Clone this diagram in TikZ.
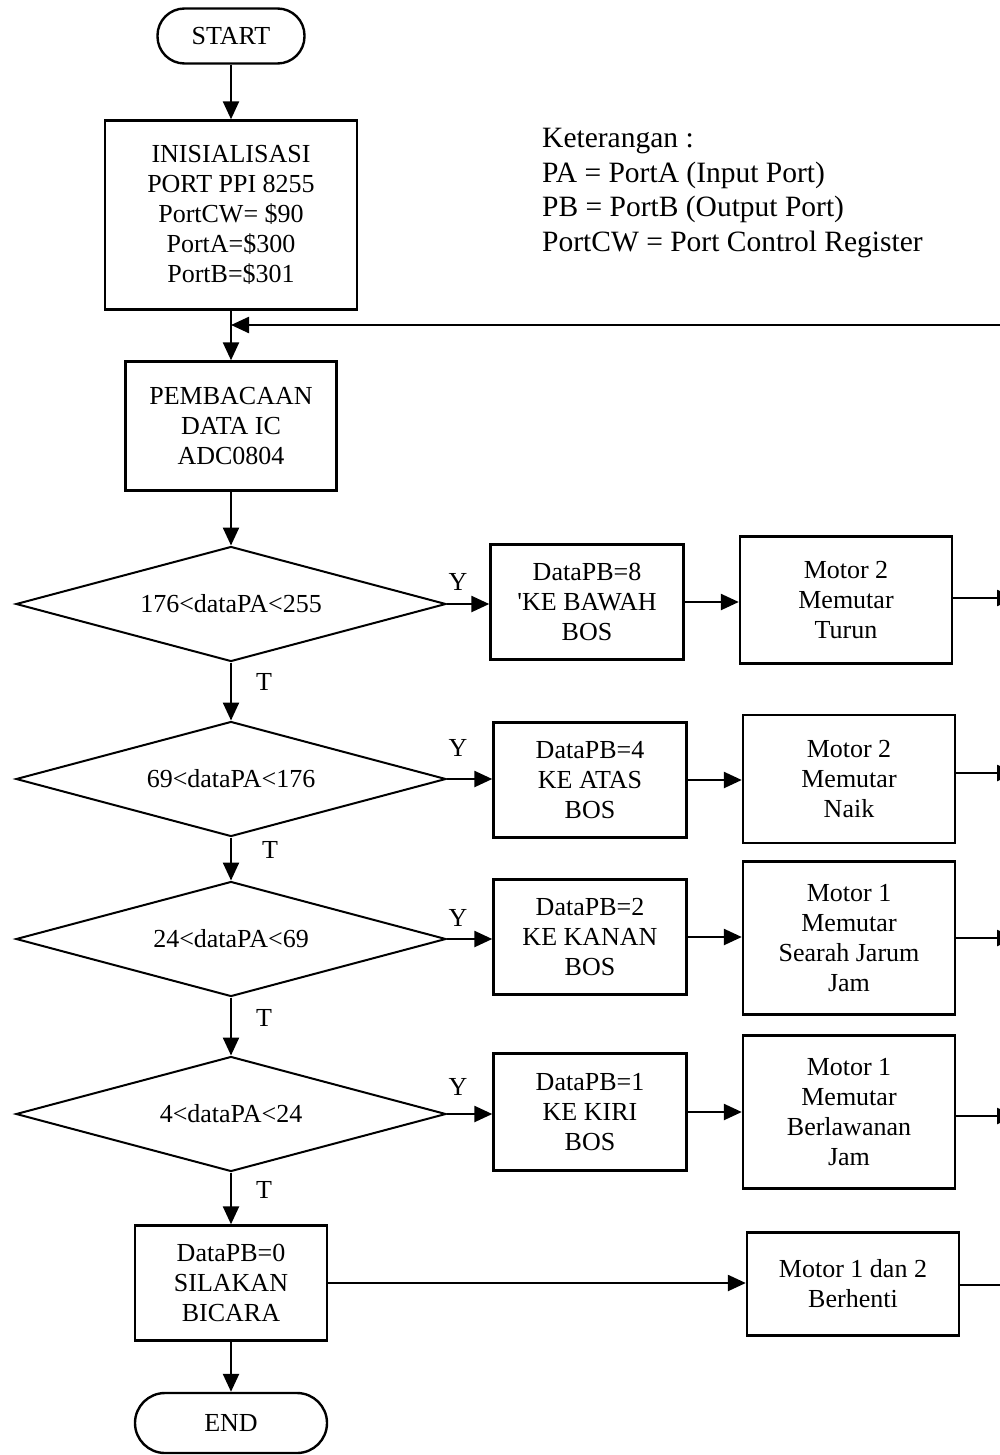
\documentclass[tikz,border=0pt]{standalone}
\usepackage{fontspec}
\setmainfont{Liberation Serif}[Ligatures=TeXOff]
\usepackage{tikz}
\usetikzlibrary{shapes.geometric,arrows.meta}

\begin{document}
\begin{tikzpicture}[x=1pt, y=-1pt, line width=2.4pt,
    font=\fontsize{26}{30}\selectfont,
    every node/.style={inner sep=0pt},
    box/.style={draw, rectangle, align=center},
    databox/.style={box, minimum width=193pt, minimum height=115pt},
    motorbox/.style={box, minimum width=212pt},
    terminal/.style={draw, rectangle, rounded corners=27pt, minimum width=147pt, minimum height=55pt},
    decision/.style={draw, diamond, aspect=3.7, minimum width=430pt, minimum height=115pt, line width=2pt},
    flow/.style={-{Triangle[length=18pt,width=16pt]}},
    lbl/.style={font=\fontsize{26}{30}\selectfont}]
    \useasboundingbox (0,0) rectangle (999,1455);

    % main column
    \node[terminal] (start) at (231,36) {START};
    \node[box, minimum width=252pt, minimum height=189pt] (init) at (231,215)
      {INISIALISASI\\PORT PPI 8255\\PortCW= \$90\\PortA=\$300\\PortB=\$301};
    \node[box, minimum width=211pt, minimum height=129pt] (baca) at (231,426)
      {PEMBACAAN\\DATA IC\\ADC0804};

    % keterangan
    \node[anchor=north west, align=left, font=\fontsize{29.5}{34.5}\selectfont] (ket) at (541,127)
      {Keterangan :\\PA = PortA (Input Port)\\PB = PortB (Output Port)\\PortCW = Port Control Register};

    % decisions
    \node[decision] (d1) at (231,604) {176<dataPA<255};
    \node[decision] (d2) at (231,779) {69<dataPA<176};
    \node[decision] (d3) at (231,939) {24<dataPA<69};
    \node[decision] (d4) at (231,1114) {4<dataPA<24};

    % data PB
    \node[databox] (pb8) at (587,602) {DataPB=8\\'KE BAWAH\\BOS};
    \node[databox] (pb4) at (590,780) {DataPB=4\\KE ATAS\\BOS};
    \node[databox] (pb2) at (590,937) {DataPB=2\\KE KANAN\\BOS};
    \node[databox, minimum height=117pt] (pb1) at (590,1112) {DataPB=1\\KE KIRI\\BOS};
    \node[databox, minimum width=192pt] (pb0) at (231,1283) {DataPB=0\\SILAKAN\\BICARA};
    \node[terminal, minimum width=192pt, minimum height=60pt, rounded corners=30pt] (end) at (231,1423) {END};

    % motors
    \node[motorbox, minimum height=127pt] (m1) at (846,600) {Motor 2\\Memutar\\Turun};
    \node[motorbox, minimum height=128pt] (m2) at (849,779) {Motor 2\\Memutar\\Naik};
    \node[motorbox, minimum height=153pt] (m3) at (849,938) {Motor 1\\Memutar\\Searah Jarum\\Jam};
    \node[motorbox, minimum height=153pt] (m4) at (849,1112) {Motor 1\\Memutar\\Berlawanan\\Jam};
    \node[motorbox, minimum height=103pt] (m5) at (853,1284) {Motor 1 dan 2\\Berhenti};

    % Y / T labels
    \node[lbl] (y1) at (458,582) {Y};
    \node[lbl] (y2) at (458,748) {Y};
    \node[lbl] (y3) at (458,918) {Y};
    \node[lbl] (y4) at (458,1087) {Y};
    \node[lbl] (t1) at (264,682) {T};
    \node[lbl] (t2) at (270,850) {T};
    \node[lbl] (t3) at (264,1018) {T};
    \node[lbl] (t4) at (264,1190) {T};

    % right edge ends
    \coordinate (ret) at (1015,325);
    \coordinate (join) at (init.south |- ret);
    \coordinate (r1) at (1015,598);
    \coordinate (r2) at (1015,773);
    \coordinate (r3) at (1015,938);
    \coordinate (r4) at (1015,1116);
    \coordinate (r5) at (1010,1285);

    % flow down
    \draw[flow] (start) -- (init);
    \draw[flow] (init) -- (baca);
    \draw[flow] (ret) -- (join);
    \draw[flow] (baca) -- (d1);
    \draw[flow] (d1) -- (d2);
    \draw[flow] (d2) -- (d3);
    \draw[flow] (d3) -- (d4);
    \draw[flow] (d4) -- (pb0);
    \draw[flow] (pb0) -- (end);

    % Y branches
    \foreach \d/\p/\m/\r in {d1/pb8/m1/r1, d2/pb4/m2/r2, d3/pb2/m3/r3, d4/pb1/m4/r4} {
      \draw[flow] (\d.east) -- (\d.east -| \p.west);
      \draw[flow] (\p.east) -- (\p.east -| \m.west);
      \draw[flow] (\m.east |- \r) -- (\r);
    }
    \draw[flow] (pb0.east) -- (pb0.east -| m5.west);
    \draw (m5.east |- r5) -- (r5);
\end{tikzpicture}
\end{document}
